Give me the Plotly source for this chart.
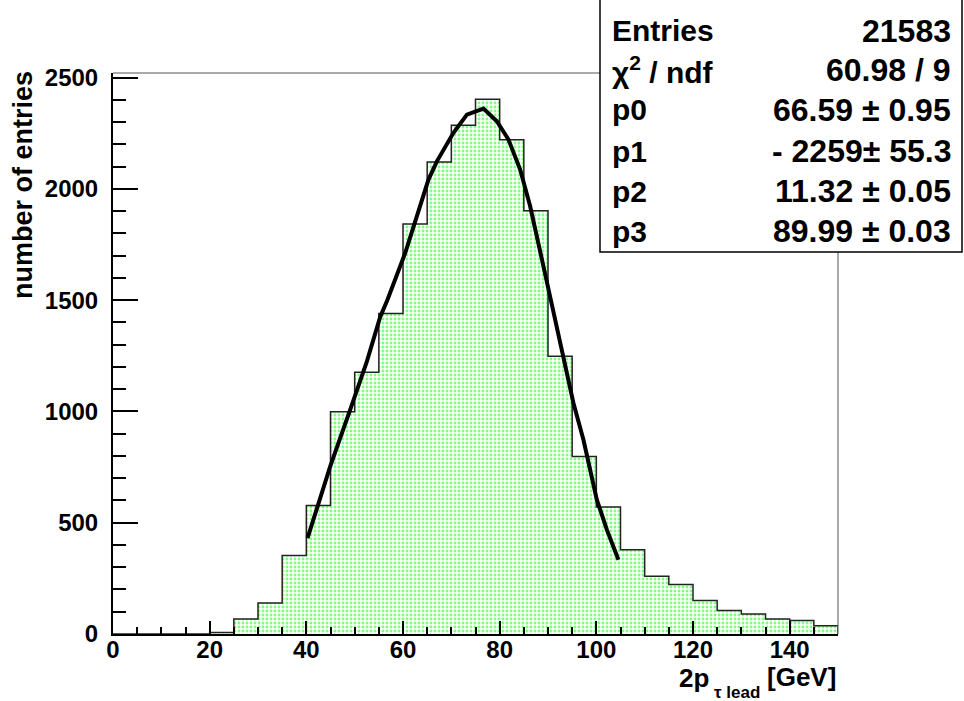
import plotly.graph_objects as go

# Histogram: 2p_T of the leading tau, 5 GeV bins from 0 to 150
bin_width = 5
bin_low = list(range(0, 150, bin_width))
counts = [0, 0, 0, 0, 7, 67, 139, 353, 578, 999,
          1176, 1440, 1843, 2121, 2286, 2403, 2221, 1902, 1248, 798,
          571, 379, 259, 222, 151, 106, 90, 67, 61, 37]

# Fitted function, sampled over the fit window 40-105 GeV
fit_x = [40.25, 44.94, 49.08, 52.53, 55.28, 56.79, 60.45, 63.56, 65.27, 67.01,
         70.44, 73.22, 76.65, 79.42, 81.82, 84.24, 86.31, 89.06, 91.13, 93.20,
         95.26, 97.33, 100.10, 102.17, 104.57]
fit_y = [431, 753, 1008, 1225, 1425, 1502, 1712, 1929, 2042, 2124,
         2252, 2334, 2361, 2304, 2222, 2087, 1922, 1652, 1443, 1248,
         1038, 873, 604, 469, 334]

# Statistics box rows
stat_names = ["Entries", "χ<sup>2</sup> / ndf", "p0", "p1", "p2", "p3"]
stat_values = ["21583", "60.98 / 9", "66.59 ± 0.95", "- 2259± 55.3",
               "11.32 ± 0.05", "89.99 ± 0.03"]

x_range = [0, 150]
y_range = [0, 2521]

W, H = 964, 701
ML, MR, MT, MB = 113, 126, 73, 67
PW, PH = W - ML - MR, H - MT - MB


def px_x(p):
    return (p - ML) / PW


def px_y(p):
    return (H - MB - p) / PH


FONT = "Liberation Sans, Arial, Helvetica, sans-serif"

centers = [b + bin_width / 2 for b in bin_low]

# step outline of the histogram
step_x = [bin_low[0]]
step_y = [0]
for b, c in zip(bin_low, counts):
    step_x += [b, b + bin_width]
    step_y += [c, c]
step_x.append(bin_low[-1] + bin_width)
step_y.append(0)

fig = go.Figure()
fig.add_trace(go.Bar(
    x=centers, y=counts, width=bin_width,
    marker=dict(color="white", line=dict(width=0),
                pattern=dict(shape=".", fgcolor="#00ff00", bgcolor="white",
                             size=4, solidity=0.4)),
    hoverinfo="skip", showlegend=False,
))
fig.add_trace(go.Scatter(
    x=step_x, y=step_y, mode="lines",
    line=dict(color="#222222", width=1.5, shape="linear"),
    hoverinfo="skip", showlegend=False,
))
fig.add_trace(go.Scatter(
    x=fit_x, y=fit_y, mode="lines",
    line=dict(color="black", width=4),
    hoverinfo="skip", showlegend=False,
))

tick_font = dict(family=FONT, size=24, color="black", weight="bold")

fig.update_layout(
    width=W, height=H,
    margin=dict(l=ML, r=MR, t=MT, b=MB, pad=0),
    paper_bgcolor="white", plot_bgcolor="white",
    bargap=0, showlegend=False,
    xaxis=dict(
        range=x_range, dtick=20, tick0=0,
        ticks="inside", ticklen=13, tickwidth=1.5, tickcolor="black",
        minor=dict(dtick=5, ticks="inside", ticklen=7, tickwidth=1.5, tickcolor="black"),
        showgrid=False, zeroline=False,
        showline=True, linecolor="black", linewidth=2,
        tickfont=tick_font, ticklabelstandoff=-7,
    ),
    yaxis=dict(
        range=y_range, dtick=500, tick0=0,
        ticks="inside", ticklen=25, tickwidth=1.5, tickcolor="black",
        minor=dict(dtick=100, ticks="inside", ticklen=13, tickwidth=1.5, tickcolor="black"),
        showgrid=False, zeroline=False,
        showline=True, linecolor="black", linewidth=2,
        tickfont=tick_font, ticklabelstandoff=8,
    ),
)

shapes = [
    # top and right frame lines
    dict(type="line", xref="paper", yref="paper", x0=0, x1=1, y0=1, y1=1,
         line=dict(color="#555555", width=1)),
    dict(type="line", xref="paper", yref="paper", x0=1, x1=1, y0=0, y1=1,
         line=dict(color="#555555", width=1)),
    # statistics box
    dict(type="rect", xref="paper", yref="paper",
         x0=px_x(600), x1=px_x(962), y0=px_y(252), y1=px_y(-2),
         fillcolor="white", line=dict(color="black", width=1.5), layer="above"),
]
fig.update_layout(shapes=shapes)

annotations = []
row_y = [31, 70, 110, 151, 191, 231]
name_font = dict(family=FONT, size=30, color="black", weight="bold")
value_font = dict(family=FONT, size=32, color="black", weight="bold")
for name, val, yy in zip(stat_names, stat_values, row_y):
    annotations.append(dict(
        xref="paper", yref="paper", x=px_x(610), y=px_y(yy),
        xanchor="left", yanchor="middle", showarrow=False,
        text=name, font=name_font))
    annotations.append(dict(
        xref="paper", yref="paper", x=px_x(953), y=px_y(yy),
        xanchor="right", yanchor="middle", showarrow=False,
        text=val, font=value_font))

# axis titles
annotations.append(dict(
    xref="paper", yref="paper", x=px_x(23), y=px_y(69), xanchor="center", yanchor="top",
    textangle=-90, showarrow=False, text="number of entries",
    font=dict(family=FONT, size=27, color="black", weight="bold")))
annotations.append(dict(
    xref="paper", yref="paper", x=px_x(711), y=px_y(678), xanchor="right", yanchor="middle",
    showarrow=False, text="2p",
    font=dict(family=FONT, size=26, color="black", weight="bold")))
annotations.append(dict(
    xref="paper", yref="paper", x=px_x(712), y=px_y(692), xanchor="left", yanchor="middle",
    showarrow=False, text="τ lead",
    font=dict(family=FONT, size=17, color="black", weight="bold")))
annotations.append(dict(
    xref="paper", yref="paper", x=1.0, y=px_y(677), xanchor="right", yanchor="middle",
    showarrow=False, text="[GeV]",
    font=dict(family=FONT, size=26, color="black", weight="bold")))

fig.update_layout(annotations=annotations)

fig.write_html("out.html")
